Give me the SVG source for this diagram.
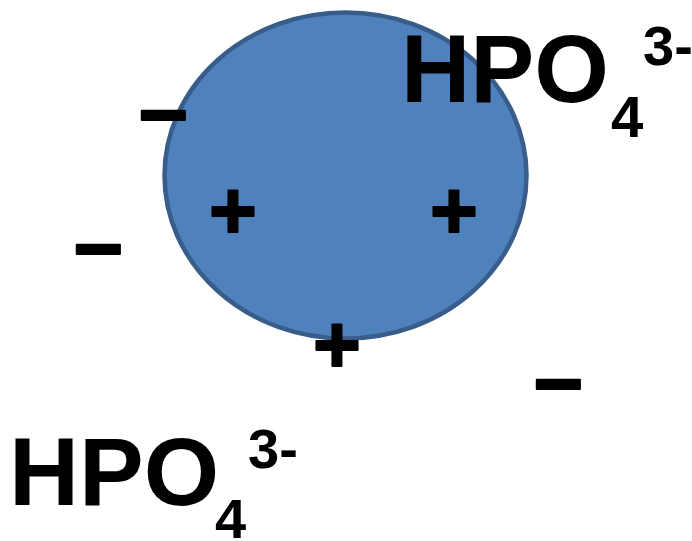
<svg xmlns="http://www.w3.org/2000/svg" width="692" height="541" viewBox="0 0 692 541">
<style>
.big{font-family:"Liberation Sans",Arial,sans-serif;font-weight:bold;fill:#000}
.sign{font-family:"Liberation Sans",Arial,sans-serif;font-weight:bold;fill:#000;text-anchor:middle;stroke:#000;stroke-width:2;stroke-linejoin:round}
</style>
<rect width="692" height="541" fill="#fff"/>
<g id="cell">
<ellipse cx="345.5" cy="175.5" rx="181" ry="163" fill="#4F81BD" stroke="#385D8A" stroke-width="4.5"/>
</g>
<g id="charges">
<text class="sign" x="163" y="144" font-size="86">−</text>
<text class="sign" x="98" y="278" font-size="86">−</text>
<text class="sign" x="558" y="413" font-size="86">−</text>
<text class="sign" x="233" y="238" font-size="82">+</text>
<text class="sign" x="454" y="238" font-size="82">+</text>
<text class="sign" x="337" y="372" font-size="82">+</text>
</g>
<g id="ion-top">
<text class="big" x="401" y="102" font-size="96">HPO</text>
<text class="big" x="611" y="137" font-size="58">4</text>
<text class="big" x="643" y="65" font-size="56">3-</text>
</g>
<g id="ion-bottom">
<text class="big" x="9" y="505" font-size="97">HPO</text>
<text class="big" x="215" y="538" font-size="56">4</text>
<text class="big" x="248" y="468" font-size="56">3-</text>
</g>
</svg>
